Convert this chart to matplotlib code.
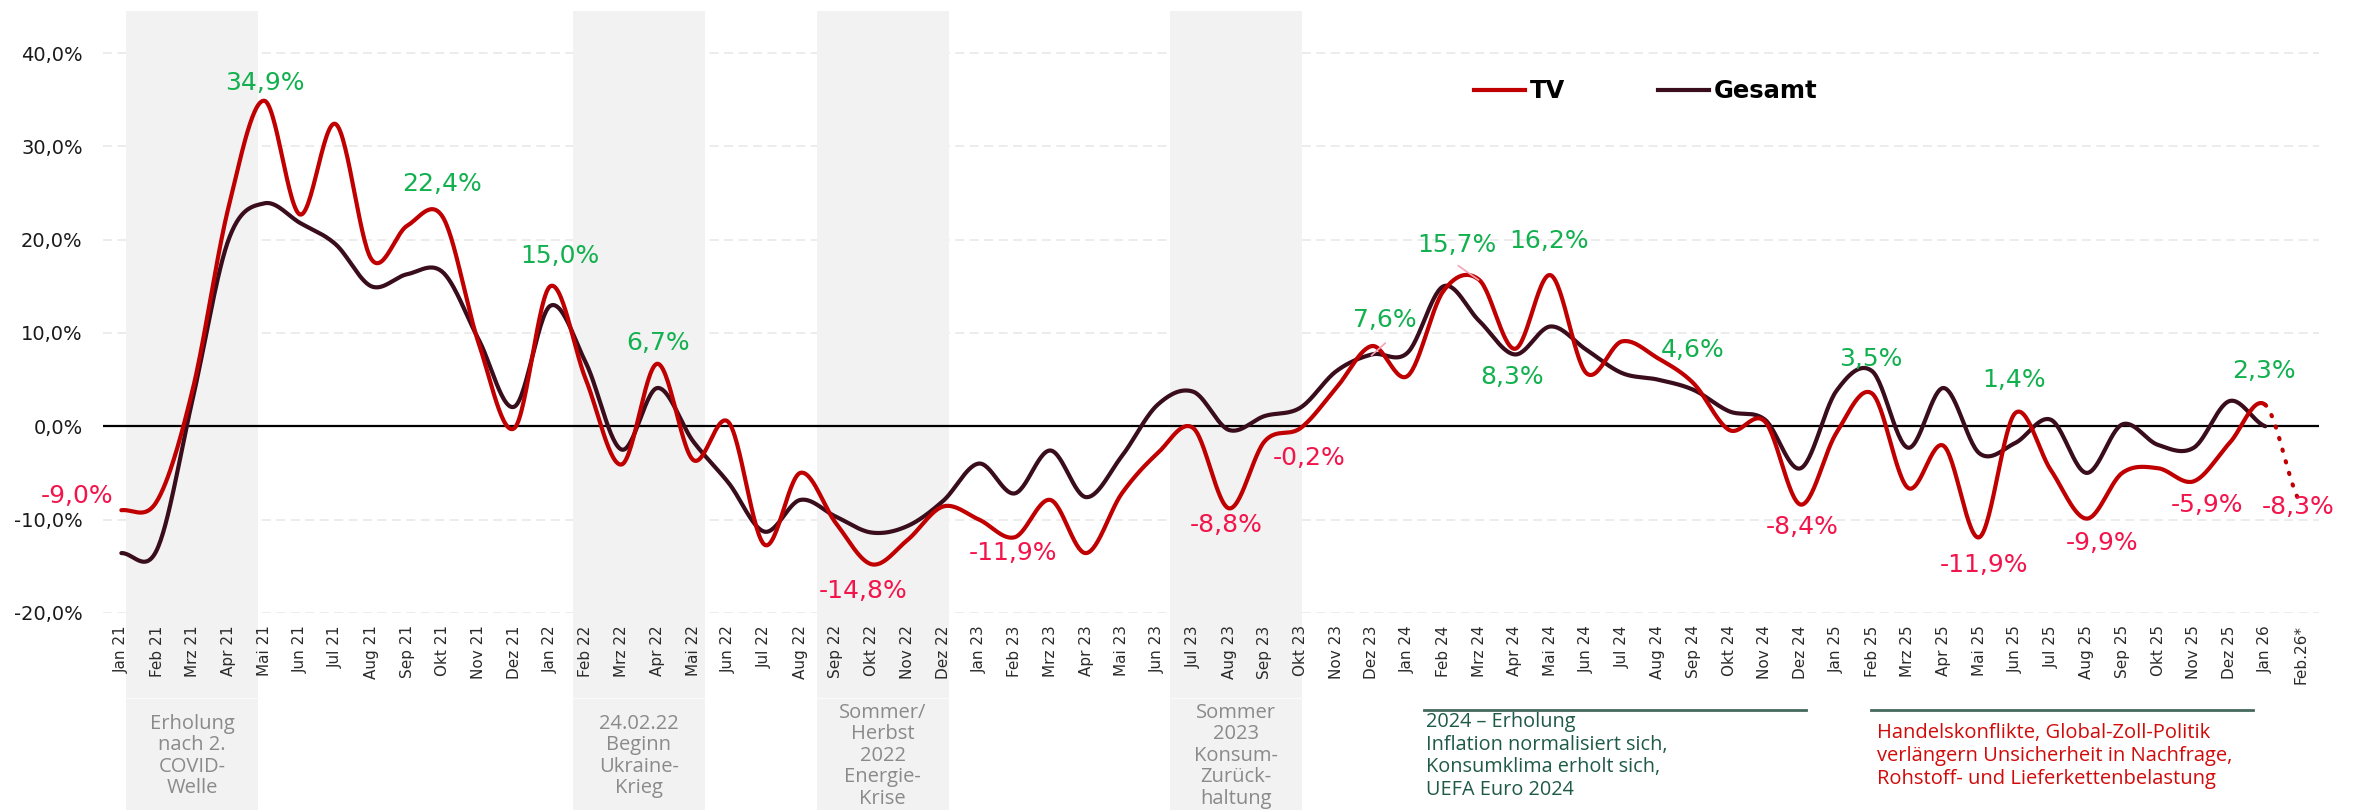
import numpy as np
import matplotlib
matplotlib.use("Agg")
import matplotlib.pyplot as plt
import matplotlib.transforms as mtransforms
from matplotlib.ticker import FuncFormatter, FixedLocator
from matplotlib.lines import Line2D
from matplotlib.patches import Rectangle

# ---------------- data ----------------
months = ["Jan 21", "Feb 21", "Mrz 21", "Apr 21", "Mai 21", "Jun 21", "Jul 21", "Aug 21", "Sep 21", "Okt 21", "Nov 21", "Dez 21",
          "Jan 22", "Feb 22", "Mrz 22", "Apr 22", "Mai 22", "Jun 22", "Jul 22", "Aug 22", "Sep 22", "Okt 22", "Nov 22", "Dez 22",
          "Jan 23", "Feb 23", "Mrz 23", "Apr 23", "Mai 23", "Jun 23", "Jul 23", "Aug 23", "Sep 23", "Okt 23", "Nov 23", "Dez 23",
          "Jan 24", "Feb 24", "Mrz 24", "Apr 24", "Mai 24", "Jun 24", "Jul 24", "Aug 24", "Sep 24", "Okt 24", "Nov 24", "Dez 24",
          "Jan 25", "Feb 25", "Mrz 25", "Apr 25", "Mai 25", "Jun 25", "Jul 25", "Aug 25", "Sep 25", "Okt 25", "Nov 25", "Dez 25",
          "Jan 26", "Feb.26*"]

tv = [-9.0, -8.0, 4.0, 23.5, 34.9, 22.7, 32.4, 17.9, 21.5, 22.4, 8.9, -0.2,
      15.0, 5.0, -4.1, 6.7, -3.6, 0.4, -12.7, -5.0, -10.4, -14.8, -12.2, -8.6,
      -10.0, -11.9, -7.9, -13.6, -7.2, -2.9, -0.2, -8.8, -1.6, -0.2, 4.1, 8.6,
      5.4, 14.5, 15.7, 8.3, 16.2, 5.7, 9.1, 7.3, 4.6, -0.4, 0.5, -8.4,
      -0.7, 3.5, -6.6, -2.1, -11.9, 1.4, -4.7, -9.9, -5.0, -4.5, -5.9, -1.8,
      2.3, -8.3]

gesamt = [-13.6, -13.2, 3.0, 20.0, 23.9, 21.8, 19.5, 15.0, 16.3, 16.5, 9.3, 2.1,
          12.9, 6.8, -2.5, 4.1, -1.6, -6.1, -11.3, -7.9, -9.7, -11.4, -10.7, -8.0,
          -4.0, -7.2, -2.6, -7.6, -3.2, 2.3, 3.7, -0.4, 1.1, 2.0, 5.9, 7.7,
          7.9, 15.0, 11.3, 7.7, 10.7, 8.2, 5.7, 5.0, 3.9, 1.6, 0.7, -4.5,
          3.8, 5.9, -2.3, 4.1, -2.9, -1.8, 0.7, -5.0, 0.2, -2.0, -2.3, 2.7,
          0.0]

# value labels: (month index of value, label text)
label_idx = [0, 4, 9, 12, 15, 21, 25, 31, 33, 35, 38, 39, 40, 44, 47, 49, 52, 53, 55, 58, 60, 61]
label_txt = ["-9,0%", "34,9%", "22,4%", "15,0%", "6,7%", "-14,8%", "-11,9%", "-8,8%", "-0,2%", "7,6%",
             "15,7%", "8,3%", "16,2%", "4,6%", "-8,4%", "3,5%", "-11,9%", "1,4%", "-9,9%", "-5,9%", "2,3%", "-8,3%"]
# label placement (x in months, y in %)
label_pos = [(-1.23, -7.5), (4.02, 36.8), (8.96, 26.0), (12.26, 18.2), (15.03, 8.9), (20.77, -17.7),
             (24.96, -13.6), (30.92, -10.6), (33.25, -3.45), (35.37, 11.4), (37.37, 19.4), (38.91, 5.3),
             (39.96, 19.9), (43.98, 8.2), (47.05, -10.8), (48.96, 7.2), (52.13, -14.9), (52.98, 5.0),
             (55.44, -12.5), (58.36, -8.45), (59.97, 5.95), (60.91, -8.7)]

bands = [(0.13, 3.82, "Erholung\nnach 2.\nCOVID-\nWelle"),
         (12.64, 16.33, "24.02.22\nBeginn\nUkraine-\nKrieg"),
         (19.46, 23.16, "Sommer/\nHerbst\n2022\nEnergie-\nKrise"),
         (29.35, 33.04, "Sommer\n2023\nKonsum-\nZurück-\nhaltung")]

note1 = "2024 – Erholung\nInflation normalisiert sich,\nKonsumklima erholt sich,\nUEFA Euro 2024"
note2 = "Handelskonflikte, Global-Zoll-Politik\nverlängern Unsicherheit in Nachfrage,\nRohstoff- und Lieferkettenbelastung"

# ---------------- styles ----------------
TV_C = "#c00000"
GES_C = "#3a0d1c"
POS_C = "#12b04f"
NEG_C = "#f2154b"
BAND_C = "#f2f2f2"
MAIN_FONT = "DejaVu Sans"
NOTE_FONT = "Open Sans"


def smooth(y, n=30):
    y = np.asarray(y, float)
    k = len(y)
    m = np.zeros(k)
    m[1:-1] = (y[2:] - y[:-2]) / 2.0
    m[0] = (y[1] - y[0]) / 2.0
    m[-1] = (y[-1] - y[-2]) / 2.0
    xs, ys = [], []
    t = np.linspace(0, 1, n, endpoint=False)
    h00 = 2 * t**3 - 3 * t**2 + 1
    h10 = t**3 - 2 * t**2 + t
    h01 = -2 * t**3 + 3 * t**2
    h11 = t**3 - t**2
    for i in range(k - 1):
        xs.append(i + t)
        ys.append(h00 * y[i] + h10 * m[i] + h01 * y[i + 1] + h11 * m[i + 1])
    xs.append([k - 1])
    ys.append([y[-1]])
    return np.concatenate(xs), np.concatenate(ys)


fig = plt.figure(figsize=(23.59, 8.10), dpi=100)
ax = fig.add_axes([0.04387, 0.24346, 0.9391, 0.74272])
ax.set_xlim(-0.5, len(months) - 0.5)
ax.set_ylim(-20, 44.5)

for s in ax.spines.values():
    s.set_visible(False)

# grid
for g in [-20, -10, 10, 20, 30, 40]:
    ax.axhline(g, color="#ebebeb", lw=1.3, ls=(0, (5, 3)), zorder=0)

trans = mtransforms.blended_transform_factory(ax.transData, ax.transAxes)
bottom_ax = -(810 - 612.8) / 601.6
for x0, x1, txt in bands:
    ax.add_patch(Rectangle((x0, bottom_ax), x1 - x0, 1 - bottom_ax, transform=trans,
                           facecolor=BAND_C, edgecolor="none", zorder=1, clip_on=False))
    ax.plot([x0, x1], [-0.1416, -0.1416], transform=trans, color="#fafafa", lw=1,
            clip_on=False, zorder=1.5)
    ax.text((x0 + x1) / 2, -0.238, txt, transform=trans, ha="center", va="center",
            fontsize=14.5, color="#8a8a8a", family=NOTE_FONT, linespacing=1.1)

ax.axhline(0, color="black", lw=1.6, zorder=2)

# series
xt, yt = smooth(tv)
xg, yg = smooth(gesamt)
last = len(months) - 2
solid = xt <= last + 1e-9
ax.plot(xt[solid], yt[solid], color=TV_C, lw=3, zorder=4, solid_capstyle="round")
ax.plot(xt[xt >= last - 1e-9], yt[xt >= last - 1e-9], color=TV_C, lw=3, zorder=4,
        ls=(0, (0.3, 2.6)), dash_capstyle="round")
ax.plot(xg, yg, color=GES_C, lw=3, zorder=3, solid_capstyle="round")

# value labels
for i, t, (px, py) in zip(label_idx, label_txt, label_pos):
    col = POS_C if tv[i] >= 0 else NEG_C
    ax.text(px, py, t, ha="center", va="center", fontsize=18, color=col,
            family=MAIN_FONT, zorder=5)

# small leader lines
ax.plot([34.99, 35.37], [7.6, 8.9], color="#f4a3b4", lw=1.2, zorder=5)
ax.plot([37.42, 37.98], [17.2, 15.7], color="#f4a3b4", lw=1.2, zorder=5)

# bottom notes
ax.plot([36.46, 47.15], [-0.1616, -0.1616], transform=trans, color="#46695d", lw=2, clip_on=False)
ax.text(36.5, -0.238, note1, transform=trans, ha="left", va="center", fontsize=14.3,
        color="#1f5a48", family=NOTE_FONT, linespacing=1.18)
ax.plot([48.98, 59.66], [-0.1616, -0.1616], transform=trans, color="#46695d", lw=2, clip_on=False)
ax.text(49.13, -0.238, note2, transform=trans, ha="left", va="center", fontsize=14.5,
        color="#d10a0a", family=NOTE_FONT, linespacing=1.18)

# axes ticks
ax.yaxis.set_major_locator(FixedLocator([-20, -10, 0, 10, 20, 30, 40]))
ax.yaxis.set_major_formatter(FuncFormatter(lambda v, p: f"{v:.1f}%".replace(".", ",")))
ax.tick_params(axis="y", length=0, pad=15, labelsize=14, labelcolor="#1a1a1a")
ax.set_xticks(range(len(months)))
ax.set_xticklabels(months, rotation=90, fontsize=11, color="#2a2a2a", family=MAIN_FONT)
ax.tick_params(axis="x", length=0, pad=9)
for lab in ax.get_yticklabels():
    lab.set_family(MAIN_FONT)

handles = [Line2D([], [], color=TV_C, lw=3), Line2D([], [], color=GES_C, lw=3)]
ax.legend(handles, ["TV", "Gesamt"], loc="center left", bbox_to_anchor=(0.6187, 0.8673),
          ncol=2, frameon=False, handlelength=2.1, handletextpad=0.2, columnspacing=3.8,
          borderpad=0, borderaxespad=0,
          prop=dict(weight="bold", size=17.5, family=MAIN_FONT))

fig.savefig("out.png", dpi=100, facecolor="white")
